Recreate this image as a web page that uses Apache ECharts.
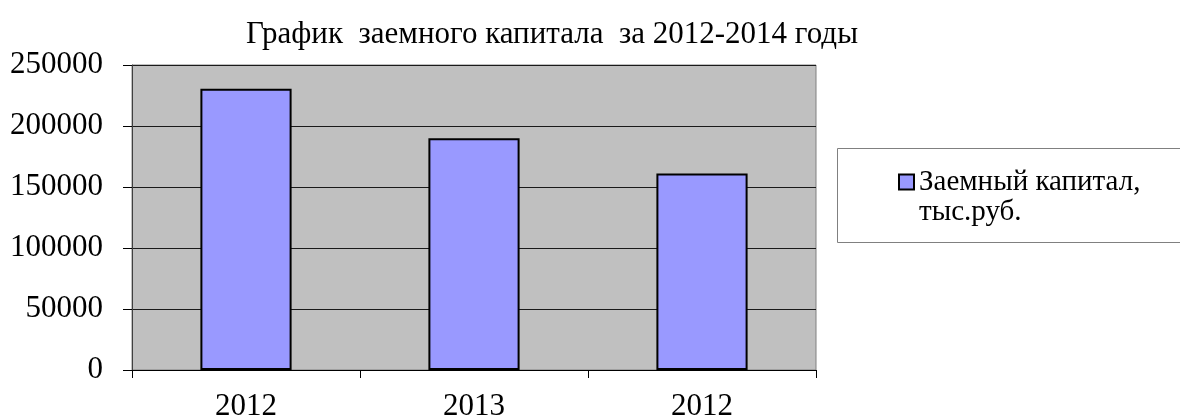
<!DOCTYPE html>
<html lang="ru">
<head>
    <meta charset="UTF-8">
    <title>График заемного капитала</title>
    <script src="https://cdn.jsdelivr.net/npm/echarts@6/dist/echarts.min.js"></script>
    <style>
        html, body { margin: 0; padding: 0; background: #fff; }
        #chart { width: 1180px; height: 417px; }
    </style>
</head>
<body>
<div id="chart"></div>
<script>
    // данные с картинки
    var years = ['2012', '2013', '2012'];
    var capital = [230500, 190000, 161000];
    var seriesName = 'Заемный капитал,\nтыс.руб.';
    var yTicks = [0, 50000, 100000, 150000, 200000, 250000];

    var font = '"Liberation Serif", "Times New Roman", serif';
    var mychart = echarts.init(document.getElementById('chart'));

    var option = {
        backgroundColor: '#fff',
        animation: false,
        title: {
            text: 'График  заемного капитала  за 2012-2014 годы',
            left: 547,
            textAlign: 'center',
            top: 14,
            textStyle: { fontFamily: font, fontSize: 31, fontWeight: 'normal', color: '#000' }
        },
        // рамка легенды
        graphic: [{
            type: 'rect',
            shape: { x: 837.5, y: 148.5, width: 360, height: 94 },
            style: { fill: '#fff', stroke: '#808080', lineWidth: 1 },
            z: 0
        }],
        legend: {
            data: [seriesName],
            left: 898,
            top: 137,
            padding: 0,
            itemWidth: 15,
            itemHeight: 15,
            itemGap: 0,
            icon: 'rect',
            z: 5,
            // пустая строка сверху, чтобы значок стоял у первой строки
            formatter: function (name) { return ' \n' + name; },
            textStyle: {
                fontFamily: font,
                fontSize: 29,
                lineHeight: 30,
                color: '#000'
            }
        },
        grid: {
            left: 132,
            right: 364,
            top: 65,
            bottom: 47,
            outerBoundsMode: 'none',
            show: true,
            backgroundColor: '#c0c0c0',
            borderColor: '#808080',
            borderWidth: 1
        },
        xAxis: {
            type: 'category',
            data: years,
            axisLine: { lineStyle: { color: '#000', width: 1 } },
            axisTick: { show: true, length: 8, lineStyle: { color: '#000' } },
            axisLabel: {
                margin: 21,
                fontFamily: font,
                fontSize: 31,
                color: '#000'
            }
        },
        yAxis: {
            type: 'value',
            min: yTicks[0],
            max: yTicks[yTicks.length - 1],
            interval: yTicks[1] - yTicks[0],
            axisLine: { show: true, lineStyle: { color: '#404040', width: 1 } },
            axisTick: { show: true, length: 9, lineStyle: { color: '#000' } },
            splitLine: { show: true, lineStyle: { color: '#1a1a1a', width: 1 } },
            axisLabel: {
                margin: 29,
                fontFamily: font,
                fontSize: 31,
                color: '#000',
                formatter: function (v) { return String(v); }
            }
        },
        series: [{
            name: seriesName,
            type: 'bar',
            data: capital,
            barWidth: '40%',
            itemStyle: {
                color: '#9999ff',
                borderColor: '#000',
                borderWidth: 2
            }
        }]
    };
    mychart.setOption(option);
</script>
</body>
</html>
